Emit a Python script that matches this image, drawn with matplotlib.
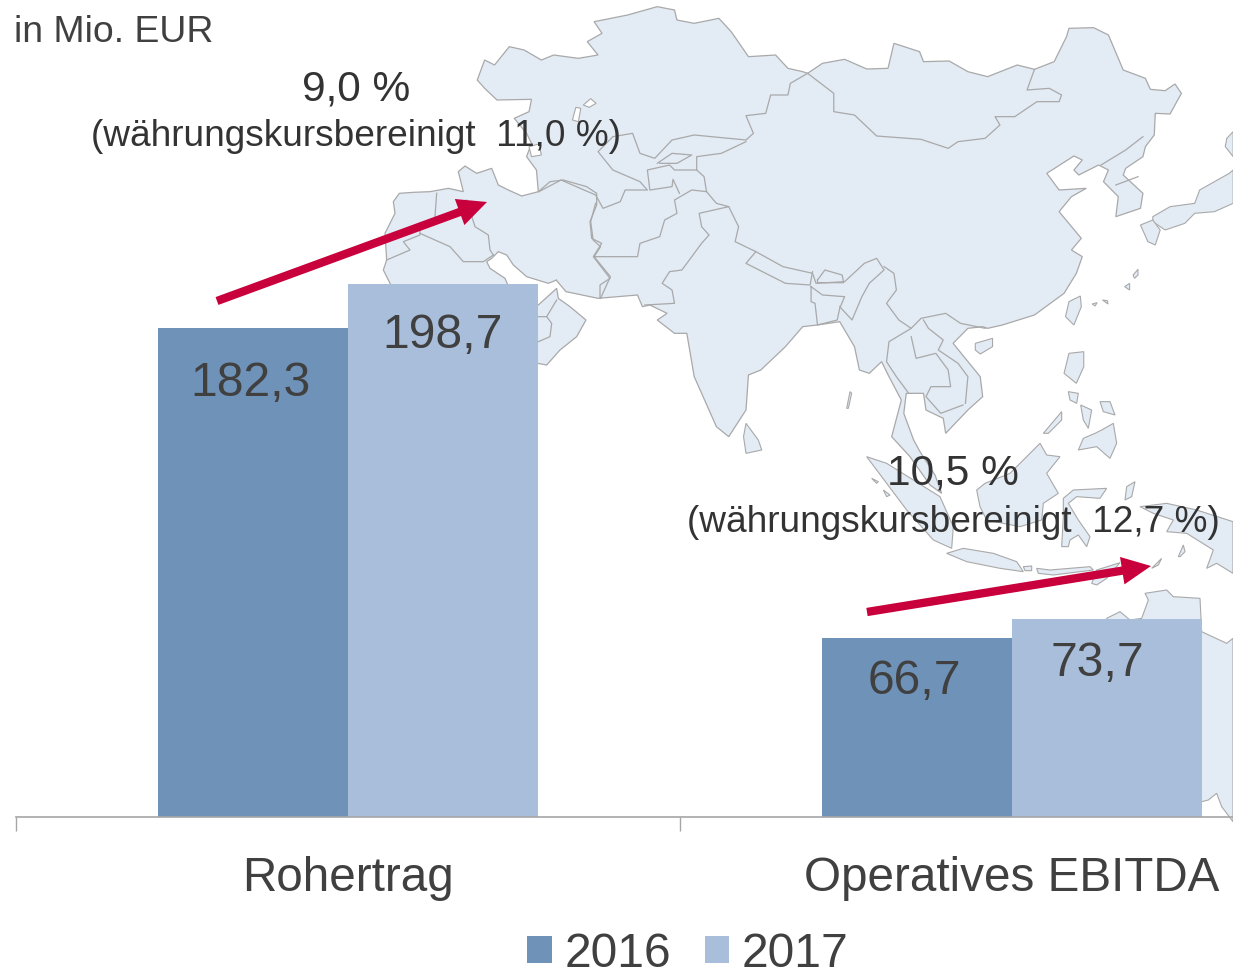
import matplotlib
matplotlib.use("Agg")
import matplotlib.pyplot as plt
from matplotlib.patches import Polygon

plt.rcParams['font.family'] = ['Liberation Sans', 'DejaVu Sans']

# =========================================================
# data
# =========================================================
categories = ["Rohertrag", "Operatives EBITDA"]
years = ["2016", "2017"]
values_2016 = [182.3, 66.7]
values_2017 = [198.7, 73.7]
labels_2016 = ["182,3", "66,7"]
labels_2017 = ["198,7", "73,7"]
growth = ["9,0 %", "10,5 %"]
growth_adj = ["(währungskursbereinigt  11,0 %)", "(währungskursbereinigt  12,7 %)"]

W, H = 1233, 972
TEXT = "#404040"
DARK = "#333333"
RED = "#c8003c"
LAND = "#e3ebf5"
BORDER = "#a9a9a9"

# =========================================================
# background map (crop coordinates)
# =========================================================
def z1(pts):
    return [(460 + x / 2.028, y / 3) for x, y in pts]

def z2(pts):
    return [(820 + x / 3, 340 + y / 3) for x, y in pts]

def z3(pts):
    return [(370 + x / 3, 150 + y / 3) for x, y in pts]

mainland = (
    z1([(35, 240), (50, 180), (70, 195), (100, 140), (130, 150), (165, 180), (190, 165),
        (240, 175), (280, 165), (258, 125), (288, 100), (272, 65), (340, 45), (400, 20),
        (435, 30), (440, 60), (475, 70), (525, 55), (550, 95), (585, 170), (640, 165),
        (665, 205), (695, 215), (705, 220), (735, 190), (780, 178), (825, 207), (868, 205),
        (880, 130), (932, 155), (940, 185), (992, 183), (1030, 215), (1070, 230), (1130, 195),
        (1165, 208), (1205, 185), (1230, 110), (1235, 85), (1285, 83), (1315, 105), (1345, 210),
        (1390, 235), (1400, 268), (1430, 272), (1450, 252), (1463, 280), (1440, 342), (1410, 340),
        (1408, 405), (1390, 440), (1385, 470), (1350, 505), (1345, 525), (1385, 580), (1380, 625),
        (1330, 650), (1335, 590), (1305, 545), (1315, 510), (1295, 495), (1255, 525), (1245, 510),
        (1262, 480), (1245, 468), (1190, 520), (1215, 570), (1270, 565), (1240, 590), (1215, 635),
        (1260, 715), (1240, 750), (1262, 770), (1250, 820), (1225, 880), (1165, 945), (1100, 975),
        (1070, 985), (1060, 980), (1030, 985), (1000, 1030), (1055, 1130), (1060, 1190), (1030, 1230),
        (985, 1300), (980, 1255), (945, 1230), (940, 1180), (905, 1180), (900, 1240), (920, 1320)])
    + z2([(300, 335), (345, 405), (365, 460), (330, 435), (270, 350), (215, 290)])
    + z1([(895, 1200), (870, 1130), (855, 1085), (830, 1120), (810, 1110), (800, 1040), (770, 965),
          (725, 975), (695, 980), (660, 1040), (610, 1110), (585, 1125), (580, 1230), (545, 1310),
          (520, 1280), (475, 1130), (460, 1000), (435, 1000), (400, 960), (420, 940), (385, 915),
          (370, 920), (360, 885), (280, 895), (215, 875), (195, 840)])
    + z3([(560, 390), (535, 400), (470, 380), (430, 345),
          (410, 315), (385, 305), (365, 325), (350, 335), (360, 355), (405, 385), (420, 420),
          (505, 465), (560, 415), (565, 445), (600, 470), (648, 510), (620, 560), (570, 600),
          (530, 645), (503, 640), (300, 700), (70, 420), (40, 360), (50, 330), (45, 250),
          (75, 190), (70, 155), (88, 130), (130, 127), (180, 125), (235, 115), (280, 125),
          (265, 65), (285, 48), (320, 70), (365, 55), (385, 105), (415, 120), (455, 138), (505, 125)])
    + z1([(155, 510), (135, 470), (145, 430), (135, 400), (110, 355), (140, 335), (145, 298), (75, 300), (50, 265)])
)

islands = [
    z1([(1045, 1030), (1080, 1015), (1080, 1040), (1055, 1062), (1045, 1050)]),
    z1([(1228, 950), (1235, 905), (1258, 888), (1260, 920), (1245, 975)]),
    z1([(580, 1270), (605, 1320), (612, 1350), (580, 1360), (575, 1310)]),
    z1([(1405, 650), (1440, 620), (1490, 610), (1500, 570), (1560, 520), (1568, 510), (1568, 610),
        (1530, 635), (1490, 640), (1470, 670), (1430, 690), (1405, 665)]),
    z1([(1380, 675), (1405, 660), (1420, 690), (1410, 735), (1395, 725)]),
    z1([(1555, 415), (1568, 395), (1568, 470), (1552, 440)]),
    z1([(1235, 1060), (1265, 1055), (1265, 1100), (1250, 1150), (1225, 1120)]),
    z1([(1365, 825), (1375, 808), (1375, 825), (1368, 835)]),
    z1([(1348, 860), (1358, 850), (1358, 870)]),
    z1([(1282, 912), (1292, 908), (1288, 918)]),
    z1([(1303, 900), (1313, 902), (1314, 912)]),
    z2([(670, 280), (725, 215), (725, 240), (685, 280)]),
    z2([(775, 330), (790, 295), (825, 280), (845, 270), (880, 250), (890, 310), (870, 355), (830, 320)]),
    z2([(745, 155), (775, 160), (770, 190), (750, 180)]),
    z2([(782, 195), (815, 210), (805, 265), (790, 240)]),
    z2([(840, 185), (870, 185), (885, 225), (850, 215)]),
    z2([(470, 450), (495, 430), (570, 400), (600, 370), (660, 310), (680, 345), (720, 350), (680, 400),
        (715, 460), (670, 490), (665, 540), (600, 560), (500, 540), (480, 500)]),
    z2([(140, 350), (200, 370), (280, 420), (360, 470), (400, 560), (395, 625), (340, 600), (260, 510), (200, 430)]),
    z2([(380, 640), (430, 625), (520, 640), (590, 665), (610, 695), (540, 685), (440, 665)]),
    z2([(610, 680), (635, 678), (635, 692), (615, 692)]),
    z2([(650, 685), (690, 690), (810, 680), (820, 690), (700, 705), (655, 700)]),
    z2([(830, 690), (900, 668), (860, 715), (830, 735), (815, 730)]),
    z2([(730, 475), (760, 450), (860, 445), (840, 475), (770, 470), (745, 490), (775, 540), (810, 590),
        (800, 620), (775, 585), (750, 600), (745, 620), (725, 620), (730, 530)]),
    z2([(915, 480), (920, 440), (945, 425), (935, 470)]),
    z2([(960, 500), (1040, 490), (1130, 510), (1239, 545), (1239, 700), (1190, 670), (1160, 685),
        (1180, 630), (1100, 580), (1040, 575), (1060, 540), (1000, 520)]),
    z2([(995, 685), (1025, 655), (1015, 675)]),
    z2([(1075, 650), (1090, 615), (1095, 635), (1080, 650)]),
    z2([(80, 205), (90, 155), (95, 160), (85, 205)]),
    z2([(155, 415), (175, 425), (170, 430)]),
    z2([(190, 450), (210, 465), (200, 470)]),
    z2([(975, 760), (1040, 750), (1060, 770), (1140, 775), (1145, 875), (1220, 910), (1239, 895),
        (1239, 1445), (1205, 1400), (1190, 1360), (1165, 1380), (1145, 1385), (860, 1000), (860, 835),
        (900, 815), (930, 840), (965, 835), (985, 780)]),
]

borders = [
    z1([(705, 220), (670, 250), (665, 285), (630, 285), (620, 340), (580, 347), (595, 400), (580, 420),
        (475, 405), (430, 420), (395, 475), (365, 460), (350, 400), (310, 410), (280, 455), (310, 510),
        (365, 545), (380, 570), (335, 570), (325, 605), (290, 625), (275, 585), (205, 540), (160, 575)]),
    z1([(705, 220), (758, 280), (758, 335), (800, 345), (845, 408), (935, 418), (990, 445), (1010, 425),
        (1065, 415), (1095, 375), (1085, 350), (1125, 350), (1170, 305), (1215, 305), (1220, 285),
        (1195, 265), (1150, 270), (1165, 208)]),
    z1([(275, 610), (265, 665), (270, 720), (285, 740), (272, 770), (360, 770), (365, 730), (405, 710),
        (415, 660), (440, 640), (435, 600), (470, 570), (500, 575), (495, 530), (480, 510), (435, 510),
        (425, 495), (380, 510), (385, 570), (430, 560), (432, 538), (445, 580)]),
    z1([(272, 770), (305, 830), (285, 895)]),
    z1([(500, 575), (520, 610), (545, 620), (485, 640), (490, 680), (505, 705), (490, 730), (450, 810),
        (425, 815), (410, 850), (430, 870), (435, 910), (375, 915)]),
    z1([(545, 620), (565, 680), (558, 725), (600, 755), (655, 800), (715, 820), (722, 850), (780, 845),
        (820, 790), (845, 775), (860, 810), (830, 850), (815, 890), (795, 960), (770, 920)]),
    z1([(600, 755), (580, 790), (660, 850), (710, 855), (715, 815)]),
    z1([(725, 840), (740, 810), (775, 825), (778, 848), (725, 848), (725, 840)]),
    z1([(860, 800), (880, 820), (885, 870), (865, 910), (890, 960), (915, 985), (935, 955), (985, 940),
        (1015, 970), (1065, 985)]),
    z1([(712, 860), (735, 885), (780, 890), (770, 925), (765, 960), (725, 975), (720, 910), (712, 905), (712, 860)]),
    z1([(915, 985), (870, 1025), (865, 1085), (885, 1130), (910, 1180)]),
    z1([(940, 960), (950, 985), (980, 1020), (970, 1050), (1010, 1090), (1030, 1130), (1025, 1210)]),
    z1([(915, 1010), (925, 1075), (965, 1060), (990, 1110), (995, 1160), (955, 1160), (945, 1190), (975, 1240), (1020, 1215)]),
    z1([(1300, 495), (1350, 450), (1385, 410)]),
    z1([(1330, 555), (1375, 530)]),
    z1([(400, 490), (430, 460), (470, 465), (440, 490), (405, 490)]),
    z1([(480, 510), (480, 470), (530, 460), (580, 425)]),
    z3([(200, 130), (195, 200)]),
    z3([(150, 250), (240, 290), (280, 335), (340, 335), (370, 315)]),
    z3([(50, 330), (120, 300), (100, 275), (150, 255), (150, 230)]),
    z3([(290, 150), (315, 230), (355, 255), (360, 300), (370, 315)]),
    z3([(530, 500), (545, 520), (540, 560), (505, 575)]),
    z3([(560, 450), (530, 500), (505, 500)]),
    z3([(505, 125), (540, 95), (580, 90), (650, 110), (680, 130), (680, 165), (660, 215), (665, 265),
        (695, 280), (670, 320), (720, 385), (690, 405), (690, 445)]),
]

lakes = [
    z1([(228, 360), (235, 322), (245, 325), (240, 365)]),
    z1([(250, 315), (265, 296), (276, 310), (262, 322)]),
    z1([(140, 440), (160, 432), (165, 465), (145, 470)]),
]

# =========================================================
# figure
# =========================================================
fig = plt.figure(figsize=(W / 100, H / 100), dpi=100)

bg = fig.add_axes([0, 0, 1, 1], zorder=0)
bg.axis("off")
bg.add_patch(Polygon(mainland, closed=True, fc=LAND, ec=BORDER, lw=0.9))
for p in islands:
    bg.add_patch(Polygon(p, closed=True, fc=LAND, ec=BORDER, lw=0.8))
for p in lakes:
    bg.add_patch(Polygon(p, closed=True, fc="white", ec=BORDER, lw=0.8))
for p in borders:
    bg.plot(*zip(*p), color=BORDER, lw=0.9, solid_joinstyle="round")
bg.set_xlim(0, W)
bg.set_ylim(H, 0)

# arrows
for start, tip in [((217, 301), (487, 202)), ((867, 612), (1151, 566))]:
    bg.annotate("", xy=tip, xytext=start,
                arrowprops=dict(width=6, headwidth=20, headlength=21, shrink=0,
                                fc=RED, ec=RED, lw=0))

# bars
ax = fig.add_axes([16 / W, (H - 817) / H, (W - 16) / W, 817 / H], zorder=1)
ax.patch.set_alpha(0)
px_per_cat = 664.0
bw = 190 / px_per_cat
xs = [0, 1]
ax.bar([x - bw / 2 for x in xs], values_2016, bw, color="#6f92b8", label=years[0])
ax.bar([x + bw / 2 for x in xs], values_2017, bw, color="#a8bedb", label=years[1])

for s in ["top", "left", "right"]:
    ax.spines[s].set_visible(False)
ax.spines["bottom"].set_color("#a6a6a6")
ax.spines["bottom"].set_linewidth(1.2)
ax.set_yticks([])
ax.set_xticks([-0.5, 0.5])
ax.set_xticklabels([])
ax.tick_params(axis="x", which="major", length=10, width=1, color="#a6a6a6")
ax.set_xticks(xs, minor=True)
ax.set_xticklabels(categories, minor=True, fontsize=34.3, color=TEXT)
ax.tick_params(axis="x", which="minor", length=0, pad=28)
ax.set_xlim(-0.5, -0.5 + (W - 16) / px_per_cat)
ax.set_ylim(0, 817 / 2.682)

# value labels, offset from bar top centre
offs_2016 = [(-1.5, -40), (-2, -31)]
offs_2017 = [(0, -37), (-7, -32)]
for x, v, t, o in zip(xs, values_2016, labels_2016, offs_2016):
    ax.annotate(t, (x - bw / 2, v), xytext=o, textcoords="offset points",
                ha="center", va="center", fontsize=34.6, color=TEXT)
for x, v, t, o in zip(xs, values_2017, labels_2017, offs_2017):
    ax.annotate(t, (x + bw / 2, v), xytext=o, textcoords="offset points",
                ha="center", va="center", fontsize=34.6, color=TEXT)

# texts in pixel positions
def ftext(x, y, s, size, color=DARK, ha="center"):
    fig.text(x / W, 1 - y / H, s, fontsize=size, color=color, ha=ha, va="center", zorder=5)

ftext(14, 32, "in Mio. EUR", 26.9, TEXT, "left")
ftext(356, 90, growth[0], 30.5)
ftext(356, 136, growth_adj[0], 26.65)
ftext(953, 474, growth[1], 30.5)
ftext(953, 522, growth_adj[1], 26.65)

fig.legend(loc="center", bbox_to_anchor=(688 / W, 1 - 954 / H), ncol=2, frameon=False,
           fontsize=34.6, labelcolor=TEXT, handlelength=0.5, handleheight=0.5,
           handletextpad=0.27, columnspacing=0.7, borderpad=0, borderaxespad=0)

fig.savefig("out.png", dpi=100)
